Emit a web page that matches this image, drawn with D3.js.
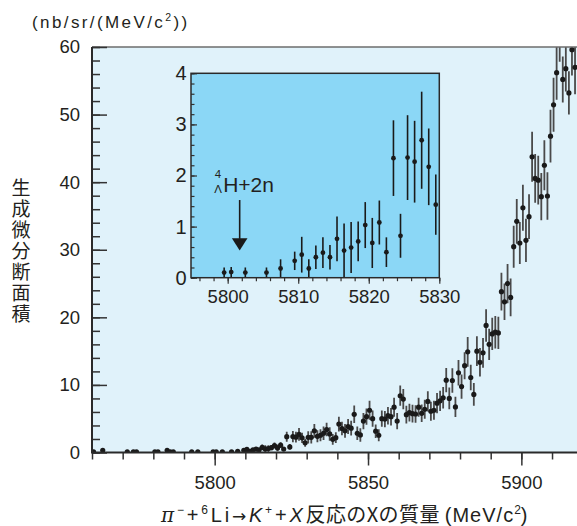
<!DOCTYPE html>
<html>
<head>
<meta charset="utf-8">
<script src="https://cdnjs.cloudflare.com/ajax/libs/d3/7.8.5/d3.min.js"></script>
<style>
body { margin: 0; background: #fff; }
svg { display: block; font-family: "Liberation Sans", Arial, sans-serif; }
</style>
</head>
<body>
<svg width="577" height="526"></svg>
<script>
// bin centres (MeV/c2), empty bins below 5809 are left out
var massBins = [5760.5, 5763.5, 5771.5, 5773.5, 5774.5, 5780.5, 5781.5, 5784.5, 5785.5, 5786.5,
    5792.5, 5794.5, 5799.5, 5800.5, 5802.5, 5805.5, 5807.5,
    5809.5, 5810.5, 5811.5, 5812.5, 5813.5, 5814.5, 5815.5, 5816.5, 5817.5, 5818.5, 5819.5,
    5820.5, 5821.5, 5822.5, 5823.5, 5824.5, 5825.5, 5826.5, 5827.5, 5828.5, 5829.5,
    5830.5, 5831.5, 5832.5, 5833.5, 5834.5, 5835.5, 5836.5, 5837.5, 5838.5, 5839.5,
    5840.5, 5841.5, 5842.5, 5843.5, 5844.5, 5845.5, 5846.5, 5847.5, 5848.5, 5849.5,
    5850.5, 5851.5, 5852.5, 5853.5, 5854.5, 5855.5, 5856.5, 5857.5, 5858.5, 5859.5,
    5860.5, 5861.5, 5862.5, 5863.5, 5864.5, 5865.5, 5866.5, 5867.5, 5868.5, 5869.5,
    5870.5, 5871.5, 5872.5, 5873.5, 5874.5, 5875.5, 5876.5, 5877.5, 5878.5, 5879.5,
    5880.5, 5881.5, 5882.5, 5883.5, 5884.5, 5885.5, 5886.5, 5887.5, 5888.5, 5889.5,
    5890.5, 5891.5, 5892.5, 5893.5, 5894.5, 5895.5, 5896.5, 5897.5, 5898.5, 5899.5,
    5900.5, 5901.5, 5902.5, 5903.5, 5904.5, 5905.5, 5906.5, 5907.5, 5908.5, 5909.5,
    5910.5, 5911.5, 5912.5, 5913.5, 5914.5, 5915.5, 5916.5, 5917.5];

// cross section (nb/sr/(MeV/c2))
var crossSection = [0.1, 0.3, 0.1, 0.1, 0.1, 0.1, 0.1, 0.3, 0.1, 0.1,
    0.1, 0.1, 0.1, 0.11, 0.1, 0.1, 0.18,
    0.33, 0.45, 0.18, 0.40, 0.49, 0.40, 0.76, 0.53, 0.59, 0.71, 1.03,
    0.68, 1.08, 0.50, 2.34, 0.82, 2.35, 2.27, 2.69, 2.17, 1.43,
    2.25, 2.25, 3.2, 2.4, 2.55, 2.85, 3.4, 2.75, 1.95, 2.2,
    4.2, 3.55, 3.2, 3.85, 3.6, 5.65, 2.85, 2.6, 4.65, 5.3,
    6.25, 5.0, 3.15, 2.55, 5.0, 4.95, 5.45, 5.3, 6.7, 4.65,
    8.4, 7.9, 5.6, 5.9, 5.75, 5.7, 6.7, 5.8, 6.4, 7.55,
    6.1, 6.25, 7.3, 7.65, 8.1, 10.7, 8.0, 10.65, 6.75, 11.8,
    9.75, 12.85, 14.9, 11.1, 8.6, 15.0, 13.35, 14.75, 18.8, 16.0,
    17.55, 17.8, 17.7, 23.8, 22.3, 25.0, 22.95, 30.45, 34.2, 31.0,
    36.2, 31.4, 34.9, 43.75, 40.55, 40.3, 37.85, 42.5, 37.95, 46.8,
    51.45, 56.2, 62.0, 55.2, 56.8, 53.2, 59.6, 57.0];

var crossErr = [0.1, 0.2, 0.1, 0.1, 0.1, 0.1, 0.1, 0.2, 0.1, 0.1,
    0.1, 0.1, 0.1, 0.1, 0.1, 0.1, 0.18,
    0.18, 0.35, 0.18, 0.23, 0.30, 0.24, 0.44, 0.53, 0.50, 0.39, 0.45,
    0.49, 0.43, 0.29, 0.74, 0.43, 0.83, 0.80, 0.95, 0.75, 0.59,
    0.9, 0.9, 1.0, 0.9, 0.9, 1.0, 1.0, 1.0, 0.8, 0.8,
    1.1, 1.0, 1.0, 1.1, 1.1, 1.3, 1.0, 1.0, 1.2, 1.2,
    1.4, 1.2, 1.0, 0.9, 1.2, 1.2, 1.3, 1.3, 1.4, 1.2,
    1.5, 1.5, 1.3, 1.3, 1.3, 1.3, 1.4, 1.3, 1.4, 1.5,
    1.4, 1.4, 1.5, 1.5, 1.6, 1.8, 1.6, 1.8, 1.5, 1.9,
    1.8, 2.0, 2.2, 1.9, 1.7, 2.2, 2.1, 2.2, 2.4, 2.3,
    2.4, 2.4, 2.4, 2.8, 2.7, 2.9, 2.8, 3.1, 3.3, 3.1,
    3.4, 3.2, 3.3, 3.7, 3.6, 3.6, 3.5, 3.7, 3.5, 3.9,
    4.0, 4.0, 4.2, 3.4, 3.4, 3.2, 3.8, 4.0];

var mainTicksX = [5800, 5850, 5900];
var mainTicksY = [0, 10, 20, 30, 40, 50, 60];
var insetTicksX = [5800, 5810, 5820, 5830];
var insetTicksY = [0, 1, 2, 3, 4];

var thresholdMass = 5801.7;   // 4LambdaH + 2n
var verticalTitle = "生成微分断面積";

var svg = d3.select("svg");
var textColor = "#231f20";

var points = massBins.map(function(m, i) {
    return {m: m, v: crossSection[i], e: crossErr[i]};
});

// ---------- main frame
var x = d3.scaleLinear().domain([5760, 5920]).range([92, 582.7]);
var y = d3.scaleLinear().domain([0, 60]).range([452.5, 47]);

svg.append("rect")
        .attr("x", x(5760)).attr("y", y(60))
        .attr("width", x(5920) - x(5760)).attr("height", y(0) - y(60))
        .style("fill", "#e0f2fa");

svg.append("clipPath").attr("id", "mainClip")
    .append("rect")
        .attr("x", x(5760)).attr("y", y(60))
        .attr("width", x(5920) - x(5760)).attr("height", y(0) - y(60));

var gMain = svg.append("g").attr("clip-path", "url(#mainClip)");

gMain.selectAll("line.err")
        .data(points)
        .enter()
        .append("line")
        .attr("class", "err")
        .attr("x1", function(d){return x(d.m);})
        .attr("x2", function(d){return x(d.m);})
        .attr("y1", function(d){return y(Math.max(0, d.v - d.e));})
        .attr("y2", function(d){return y(d.v + d.e);})
        .style("stroke", "#4a4a4a")
        .style("stroke-width", "1.8px");

gMain.selectAll("circle")
        .data(points)
        .enter()
        .append("circle")
        .attr("cx", function(d){return x(d.m);})
        .attr("cy", function(d){return y(d.v);})
        .attr("r", 2.6)
        .style("fill", "#1a1a1a");

// top line of frame
svg.append("line")
        .attr("x1", x(5760)).attr("x2", x(5920))
        .attr("y1", y(60)).attr("y2", y(60))
        .style("stroke", "#6d6d6d").style("stroke-width", "1.5px");

var fmt = d3.format("d");

// y axis, ticks pointing inward
var yMinor = svg.append("g").attr("transform", "translate(" + x(5760) + ",0)")
        .call(d3.axisLeft(y).tickValues(d3.range(0, 61, 2)).tickSize(-8).tickFormat(""));
var yMajor = svg.append("g").attr("transform", "translate(" + x(5760) + ",0)")
        .call(d3.axisLeft(y).tickValues(mainTicksY).tickSize(-15).tickPadding(12).tickFormat(fmt));

// x axis, ticks pointing outward
var xMinor = svg.append("g").attr("transform", "translate(0," + y(0) + ")")
        .call(d3.axisBottom(x).tickValues(d3.range(5760, 5921, 10)).tickSize(7).tickFormat(""));
var xMajor = svg.append("g").attr("transform", "translate(0," + y(0) + ")")
        .call(d3.axisBottom(x).tickValues(mainTicksX).tickSize(13).tickPadding(10).tickFormat(fmt));

[yMinor, yMajor, xMinor, xMajor].forEach(function(g) {
    g.select(".domain").remove();
    g.selectAll(".tick line").style("stroke", "#333").style("stroke-width", "1.5px");
    g.selectAll(".tick text")
        .style("font-size", "18.5px")
        .style("font-family", "'Liberation Sans', Arial, sans-serif")
        .style("fill", textColor);
});

svg.append("line")
        .attr("x1", x(5760)).attr("x2", x(5760))
        .attr("y1", y(60)).attr("y2", y(0))
        .style("stroke", "#2a2a2a").style("stroke-width", "2px");
svg.append("line")
        .attr("x1", x(5760) - 1).attr("x2", x(5920))
        .attr("y1", y(0)).attr("y2", y(0))
        .style("stroke", "#2a2a2a").style("stroke-width", "2px");

// ---------- inset
var ix = d3.scaleLinear().domain([5794.8, 5830]).range([191, 439.3]);
var iy = d3.scaleLinear().domain([0, 4]).range([277.7, 73.3]);

svg.append("rect")
        .attr("x", ix(5794.8)).attr("y", iy(4))
        .attr("width", ix(5830) - ix(5794.8)).attr("height", iy(0) - iy(4))
        .style("fill", "#8bd7f6");

var insetPoints = points.filter(function(d) {return d.m > 5794.8 && d.m < 5830;});

var gInset = svg.append("g");

gInset.selectAll("line.err")
        .data(insetPoints)
        .enter()
        .append("line")
        .attr("class", "err")
        .attr("x1", function(d){return ix(d.m);})
        .attr("x2", function(d){return ix(d.m);})
        .attr("y1", function(d){return iy(Math.max(0, d.v - d.e));})
        .attr("y2", function(d){return iy(Math.min(4, d.v + d.e));})
        .style("stroke", "#1a1a1a")
        .style("stroke-width", "1.6px");

gInset.selectAll("circle")
        .data(insetPoints)
        .enter()
        .append("circle")
        .attr("cx", function(d){return ix(d.m);})
        .attr("cy", function(d){return iy(d.v);})
        .attr("r", 2.4)
        .style("fill", "#1a1a1a");

var iyMinor = svg.append("g").attr("transform", "translate(" + ix(5794.8) + ",0)")
        .call(d3.axisLeft(iy).tickValues(d3.range(0, 4.01, 0.2)).tickSize(-3.5).tickFormat(""));
var iyMajor = svg.append("g").attr("transform", "translate(" + ix(5794.8) + ",0)")
        .call(d3.axisLeft(iy).tickValues(insetTicksY).tickSize(-6).tickPadding(4.5).tickFormat(fmt));
var ixMinor = svg.append("g").attr("transform", "translate(0," + iy(0) + ")")
        .call(d3.axisBottom(ix).tickValues(d3.range(5796, 5831, 2)).tickSize(3.5).tickFormat(""));
var ixMajor = svg.append("g").attr("transform", "translate(0," + iy(0) + ")")
        .call(d3.axisBottom(ix).tickValues(insetTicksX).tickSize(6).tickPadding(6).tickFormat(fmt));

[iyMinor, iyMajor, ixMinor, ixMajor].forEach(function(g) {
    g.select(".domain").remove();
    g.selectAll(".tick line").style("stroke", "#333").style("stroke-width", "1.2px");
    g.selectAll(".tick text")
        .style("font-size", "18.5px")
        .style("font-family", "'Liberation Sans', Arial, sans-serif")
        .style("fill", textColor);
});
iyMajor.selectAll(".tick text").style("font-size", "20px");

svg.append("rect")
        .attr("x", ix(5794.8)).attr("y", iy(4))
        .attr("width", ix(5830) - ix(5794.8)).attr("height", iy(0) - iy(4))
        .style("fill", "none")
        .style("stroke", "#2a2a2a").style("stroke-width", "1.5px");

// threshold arrow + label
var ax = ix(thresholdMass);
svg.append("line")
        .attr("x1", ax).attr("x2", ax)
        .attr("y1", iy(1.52)).attr("y2", iy(0.76))
        .style("stroke", "#1a1a1a").style("stroke-width", "1.6px");
svg.append("path")
        .attr("d", "M" + (ax - 7.8) + "," + iy(0.77) + "L" + (ax + 7.8) + "," + iy(0.77) + "L" + ax + "," + iy(0.53) + "Z")
        .style("fill", "#1a1a1a");

var lab = svg.append("g").style("fill", textColor);
lab.append("text").attr("x", ax - 25).attr("y", iy(1.96)).style("font-size", "11.5px").text("4");
lab.append("text").attr("x", ax - 25.5).attr("y", iy(1.66)).style("font-size", "11.5px").text("Λ");
lab.append("text").attr("x", ax - 16.5).attr("y", iy(1.68)).style("font-size", "21px").text("H+2n");

// ---------- titles
var yt = svg.append("text")
        .attr("x", 32).attr("y", 27.5)
        .style("font-size", "17px")
        .style("letter-spacing", "2.4px")
        .style("fill", textColor);
yt.append("tspan").text("(nb/sr/(MeV/c");
yt.append("tspan").attr("dy", -7).style("font-size", "10.5px").text("2");
yt.append("tspan").attr("dy", 7).text("))");

svg.append("text")
        .attr("x", 21)
        .attr("y", 178)
        .style("writing-mode", "vertical-rl")
        .style("font-family", "'Noto Sans CJK JP', sans-serif")
        .style("font-size", "19px")
        .style("letter-spacing", "2.1px")
        .style("fill", textColor)
        .text(verticalTitle);

var xt = svg.append("text")
        .attr("x", 161).attr("y", 521.5)
        .style("font-size", "20px")
        .style("fill", textColor);
var latin = xt.append("tspan").style("letter-spacing", "2.8px");
latin.append("tspan").style("font-family", "'DejaVu Serif', serif").style("font-style", "italic").text("π");
latin.append("tspan").attr("dy", -8).style("font-size", "12px").text("−");
latin.append("tspan").attr("dy", 8).text("+");
latin.append("tspan").attr("dy", -8).style("font-size", "12px").text("6");
latin.append("tspan").attr("dy", 8).text("Li");
latin.append("tspan").style("font-family", "'DejaVu Sans', sans-serif").style("font-size", "17px").text("→");
latin.append("tspan").style("font-style", "italic").text("K");
latin.append("tspan").attr("dy", -8).style("font-size", "12px").text("+");
latin.append("tspan").attr("dy", 8).text("+");
latin.append("tspan").style("font-style", "italic").text("X");
xt.append("tspan").style("font-family", "'Noto Sans CJK JP', sans-serif").style("letter-spacing", "0.4px").text("反応のXの質量");
xt.append("tspan").attr("dx", 5).style("letter-spacing", "1px").text("(MeV/c");
xt.append("tspan").attr("dy", -8).style("font-size", "12px").text("2");
xt.append("tspan").attr("dy", 8).text(")");
</script>
</body>
</html>
